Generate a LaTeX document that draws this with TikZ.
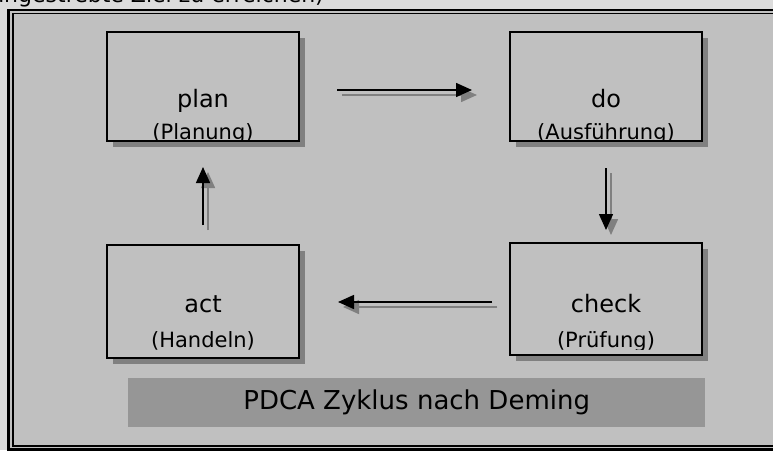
\documentclass[tikz,border=0pt]{standalone}
\usepackage{fontspec}
\setmainfont{DejaVu Sans}
\usetikzlibrary{positioning, shadows, arrows.meta}

\definecolor{pagegray}{HTML}{DCDCDC}
\definecolor{panelgray}{HTML}{C0C0C0}
\definecolor{titlegray}{HTML}{969696}
\definecolor{shadegray}{HTML}{808080}

\tikzset{
  stage/.style={draw, line width=1.5pt, fill=panelgray, minimum width=192pt,
    minimum height=109pt, inner sep=0pt, outer sep=0pt, anchor=north west,
    drop shadow={shadow xshift=6pt, shadow yshift=-6pt, fill=shadegray, opacity=1}},
  stagename/.style={font=\fontsize{24}{26}\selectfont, inner sep=0pt, anchor=base},
  stagesub/.style={font=\fontsize{21}{23}\selectfont, inner sep=0pt, anchor=base},
  flow/.style={line width=1.5pt, -{Triangle[length=16pt,width=14pt]}},
}

\begin{document}
\begin{tikzpicture}[x=1pt, y=-1pt]
    \useasboundingbox (0,0) rectangle (773,450);
    \fill[pagegray] (0,0) rectangle (773,450);

    % cut-off line of text above the frame
    \node[anchor=base east, inner sep=0pt, font=\fontsize{22}{24}\selectfont] (caption) at (324,2) {angestrebte Ziel zu erreichen)};

    % double frame
    \draw[line width=2.5pt, fill=panelgray] (8.5,10) rectangle (790,449.5);
    \draw[line width=1.5pt] (13,13.5) rectangle (785,446);

    % the four stages
    \node[stage] (plan) at (107,32) {};
    \node[stage] (do) at (510,32) {};
    \node[stage, minimum height=113pt] (act) at (107,245) {};
    \node[stage, minimum height=112pt] (check) at (510,243) {};

    \foreach \s/\stagetxt/\subtxt/\hi/\lo/\cut in {plan/plan/(Planung)/34/2/0, do/do/(Ausführung)/34/2/0,
        act/act/(Handeln)/46/11/0, check/check/(Prüfung)/43/8/6} {
        \begin{scope}
            \clip (\s.north west) rectangle ([yshift=\cut pt]\s.south east);
            \node[stagename] (\s-name) at ([yshift=\hi pt]\s.south) {\stagetxt};
            \node[stagesub] (\s-sub) at ([yshift=\lo pt]\s.south) {\subtxt};
        \end{scope}
        \draw[line width=1.5pt] (\s.north west) rectangle (\s.south east); % border over the cut text
    }

    % arrows, grey copy first (shadow), then black
    \foreach \col/\d in {shadegray/5, black/0} {
        \begin{scope}[transform canvas={xshift=\d pt, yshift=-\d pt}]
            \draw[flow, color=\col, shorten <=38pt, shorten >=38pt] ([yshift=-3.5pt]plan.east) -- ([yshift=-3.5pt]do.west);
            \draw[flow, color=\col, shorten <=27pt, shorten >=13pt] (do.south) -- (check.north);
            \draw[flow, color=\col, shorten <=18pt, shorten >=39pt] ([yshift=-3pt]check.west) -- ([yshift=-0.5pt]act.east);
            \draw[flow, color=\col, shorten <=20pt, shorten >=26pt] (act.north) -- (plan.south);
        \end{scope}
    }

    % title bar
    \node[fill=titlegray, minimum width=577pt, minimum height=49pt, inner sep=0pt, anchor=north west,
        font=\fontsize{26}{29}\selectfont] (title) at (128,378) {PDCA Zyklus nach Deming};
\end{tikzpicture}
\end{document}
